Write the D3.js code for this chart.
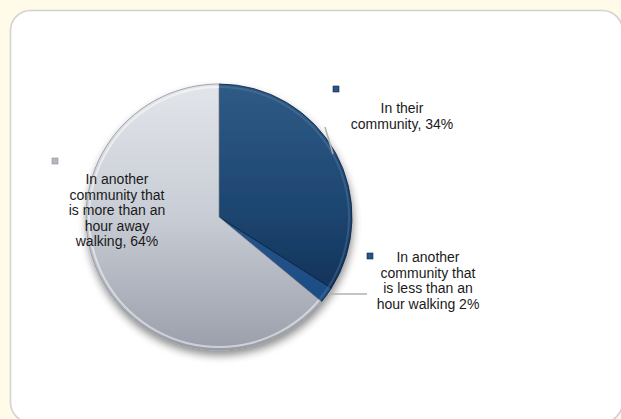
<!DOCTYPE html>
<html><head><meta charset="utf-8">
<script src="https://cdn.jsdelivr.net/npm/d3@7"></script>
<style>html,body{margin:0;padding:0;background:#fffbe8;}svg{display:block;}</style>
</head><body>
<svg id="c" width="621" height="419"></svg>
<script>
const categories = ["In their community", "In another community that is less than an hour walking", "In another community that is more than an hour away walking"];
const values = [34, 2, 64];
const labelLines = [
  ["In their", "community, 34%"],
  ["In another", "community that", "is less than an", "hour walking 2%"],
  ["In another", "community that", "is more than an", "hour away", "walking, 64%"]
];

const svg = d3.select("#c");
const W = 621, H = 419;
svg.append("rect").attr("x",0).attr("y",0).attr("width",W).attr("height",H).attr("fill","#fffbe8");
svg.append("rect").attr("x",10.5).attr("y",10.5).attr("width",612).attr("height",412).attr("rx",20)
  .attr("fill","#ffffff").attr("stroke","#d2d2d2").attr("stroke-width",1.6);

const defs = svg.append("defs");
function lg(id, stops){
  const g = defs.append("linearGradient").attr("id",id).attr("gradientUnits","userSpaceOnUse")
    .attr("x1",0).attr("y1",-133).attr("x2",0).attr("y2",133);
  stops.forEach(s=>g.append("stop").attr("offset",s[0]).attr("stop-color",s[1]));
}
lg("g0",[[0,"#2f5b86"],[0.5,"#1c446f"],[1,"#0b2547"]]);
lg("g1",[[0,"#2d5c92"],[1,"#1a4a80"]]);
lg("g2",[[0,"#e2e5ea"],[0.5,"#c8ccd4"],[1,"#9a9fab"]]);
const f = defs.append("filter").attr("id","sh").attr("x","-20%").attr("y","-20%").attr("width","140%").attr("height","150%");
f.append("feGaussianBlur").attr("in","SourceAlpha").attr("stdDeviation",4).attr("result","b");
f.append("feOffset").attr("in","b").attr("dx",1).attr("dy",5).attr("result","o");
f.append("feComponentTransfer").attr("in","o").attr("result","o2").append("feFuncA").attr("type","linear").attr("slope",0.45);
const m = f.append("feMerge"); m.append("feMergeNode").attr("in","o2"); m.append("feMergeNode").attr("in","SourceGraphic");

const cx = 219, cy = 217, r = 133;
const pie = d3.pie().sort(null).value(d=>d);
const arcs = pie(values);
const arc = d3.arc().innerRadius(0).outerRadius(r);
const fills = ["url(#g0)","url(#g1)","url(#g2)"];
const g = svg.append("g").attr("transform",`translate(${cx},${cy})`);
const pg = g.append("g").attr("filter","url(#sh)");
pg.selectAll("path").data(arcs).enter().append("path")
  .attr("d",arc).attr("fill",(d,i)=>fills[i])
  .attr("stroke",(d,i)=>i===2?"#8e939e":"#0a2040").attr("stroke-width",0.8);
// bevel highlight on rim
const rim = d3.arc().innerRadius(r-4).outerRadius(r-2);
g.selectAll("path.rim").data(arcs).enter().append("path").attr("class","rim")
  .attr("d",rim).attr("fill",(d,i)=>i===2?"#ffffff":"#5f86ad").attr("opacity",(d,i)=>i===2?0.5:0.35);

// leader lines
const line = d3.line();
g.append("path").attr("d", line([[106,-90],[114,-63]])).attr("stroke","#b0b0b0").attr("stroke-width",1.5).attr("fill","none");
g.append("path").attr("d", line([[109,77],[148,77]])).attr("stroke","#b0b0b0").attr("stroke-width",1.5).attr("fill","none");

// labels
const labelPos = [
  {kx:336, ky:89, tx:402, ty:113, dy:15.5},
  {kx:370, ky:256, tx:428, ty:262, dy:15.5},
  {kx:55, ky:161, tx:117, ty:184, dy:15.5}
];
const keyFill = ["#2a5580","#24568c","#b4b8c0"];
labelPos.forEach((p,i)=>{
  svg.append("rect").attr("x",p.kx-3).attr("y",p.ky-3).attr("width",6).attr("height",6)
    .attr("fill",keyFill[i]).attr("stroke",i===2?"#8a8f99":"#0e2a4a").attr("stroke-width",0.6);
  const t = svg.append("text").attr("x",p.tx).attr("y",p.ty).attr("text-anchor","middle")
    .attr("font-family","Liberation Sans, Arial, sans-serif").attr("font-size",14).attr("fill","#1a1a1a");
  labelLines[i].forEach((s,j)=>t.append("tspan").attr("x",p.tx).attr("dy",j===0?0:p.dy).text(s));
});
</script>
</body></html>
